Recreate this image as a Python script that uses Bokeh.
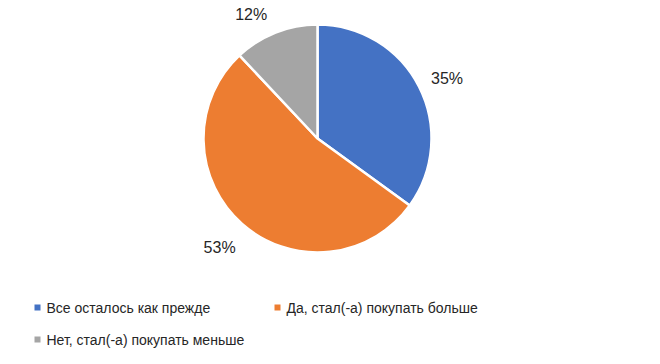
import math
from bokeh.plotting import figure
from bokeh.models import Range1d, ColumnDataSource
from bokeh.core.properties import value
from bokeh.embed import file_html
from bokeh.resources import INLINE

categories = ["Все осталось как прежде", "Да, стал(-а) покупать больше", "Нет, стал(-а) покупать меньше"]
shares = [35, 53, 12]
labels = ["35%", "53%", "12%"]
colors = ["#4472C4", "#ED7D31", "#A5A5A5"]

W, H = 644, 348
FONT = "Liberation Sans"

p = figure(width=W, height=H, output_backend="svg", toolbar_location=None,
           x_range=Range1d(0, W), y_range=Range1d(364 - H, 364),
           min_border=0)
p.axis.visible = False
p.grid.visible = False
p.outline_line_color = None
p.background_fill_color = "white"
p.border_fill_color = "white"

cx, cy, r = 317, 364 - 138, 114

total = sum(shares)
starts, ends, mids = [], [], []
a = math.pi / 2
for v in shares:
    ang = v / total * 2 * math.pi
    starts.append(a)
    ends.append(a - ang)
    mids.append(a - ang / 2)
    a -= ang

src = ColumnDataSource(dict(start=starts, end=ends, color=colors))
p.wedge(x=cx, y=cy, radius=r, start_angle="end", end_angle="start",
        fill_color="color", line_color="white", line_width=2.5, source=src)

# label layout (pixel nudges, style only)
label_r = r + 28
nudge = [(3, -4), (-4, -2), (-14, -8)]
lx = [cx + label_r * math.cos(m) + d[0] for m, d in zip(mids, nudge)]
ly = [cy + label_r * math.sin(m) + d[1] for m, d in zip(mids, nudge)]
p.text(x=lx, y=ly, text=labels, text_font=value(FONT), text_font_size="16px",
       text_color="#262626", text_align="center", text_baseline="middle")

# legend
leg_x = [37, 277, 37]
leg_y = [364 - 307, 364 - 307, 364 - 339]
p.rect(x=leg_x, y=leg_y, width=6, height=6, fill_color=colors, line_color=None)
p.text(x=[x + 9 for x in leg_x], y=leg_y, text=categories, text_font=value(FONT),
       text_font_size="14px", text_color="#262626", text_align="left",
       text_baseline="middle")

open("out.html", "w").write(file_html(p, INLINE))
